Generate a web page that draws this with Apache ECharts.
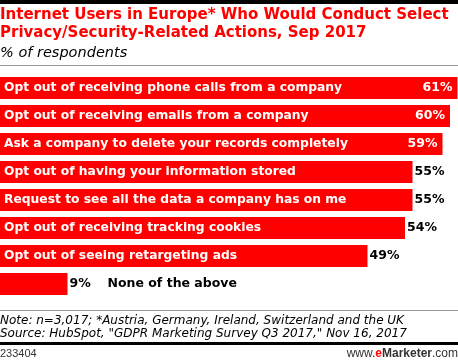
<!DOCTYPE html>
<html><head><meta charset="utf-8">
<script src="https://cdn.jsdelivr.net/npm/echarts@6/dist/echarts.min.js"></script>
<style>html,body{margin:0;padding:0;background:#fff}#c{width:458px;height:361px}</style>
</head><body><div id="c"></div>
<script>
var titleLines = ["Internet Users in Europe* Who Would Conduct Select", "Privacy/Security-Related Actions, Sep 2017"];
var subtitle = "% of respondents";
var categories = [
  "Opt out of receiving phone calls from a company",
  "Opt out of receiving emails from a company",
  "Ask a company to delete your records completely",
  "Opt out of having your information stored",
  "Request to see all the data a company has on me",
  "Opt out of receiving tracking cookies",
  "Opt out of seeing retargeting ads",
  "None of the above"
];
var values = [61, 60, 59, 55, 55, 54, 49, 9];
var noteLines = ["Note: n=3,017; *Austria, Germany, Ireland, Switzerland and the UK",
  "Source: HubSpot, \"GDPR Marketing Survey Q3 2017,\" Nov 16, 2017"];
var chartId = "233404";

var RED = '#ff0000';
var FONT = '"DejaVu Sans", Verdana, sans-serif';
var AFONT = '"Liberation Sans", Arial, sans-serif';
var chart = echarts.init(document.getElementById('c'), null, {renderer: 'canvas'});

var catData = values.map(function (v, i) {
  var outside = v < 20;
  return {value: v, label: {show: !outside}};
});
var valData = values.map(function (v, i) {
  var inside = v >= 59;
  var outside = v < 20;
  return {
    value: v,
    label: inside ? {position: 'insideRight', color: '#fff', offset: [0, 0]} :
      outside ? {position: 'right', offset: [-3, 0], formatter: '{a|' + v + '%}{b|' + categories[i] + '}'} :
      {position: 'right', color: '#000', offset: [-3, 0]}
  };
});

chart.setOption({
  animation: false,
  grid: {left: 0, right: 0, top: 74, height: 224, containLabel: false},
  xAxis: {type: 'value', min: 0, max: 458 / 7.5, show: false},
  yAxis: {type: 'category', data: categories, inverse: true, show: false},
  series: [
    {
      type: 'bar', data: catData, barWidth: 22, barGap: '-100%',
      itemStyle: {color: RED},
      label: {show: true, position: 'insideLeft', offset: [-1, 0], formatter: function (p) { return categories[p.dataIndex]; },
        color: '#fff', fontWeight: 'bold', fontSize: 12.3, fontFamily: FONT}
    },
    {
      type: 'bar', data: valData, barWidth: 22, barGap: '-100%',
      itemStyle: {color: 'rgba(0,0,0,0)'}, silent: true,
      label: {show: true, formatter: '{c}%', color: '#000', fontWeight: 'bold', fontSize: 12.5, fontFamily: FONT,
        rich: {
          a: {color: '#000', fontWeight: 'bold', fontSize: 12.5, fontFamily: FONT, width: 38},
          b: {color: '#000', fontWeight: 'bold', fontSize: 12.5, fontFamily: FONT}
        }}
    }
  ],
  graphic: [
    {type: 'rect', shape: {x: 0, y: 0, width: 458, height: 4}, style: {fill: '#000'}},
    {type: 'text', x: 0, y: 15, style: {text: titleLines[0], fill: RED, font: 'bold 15px ' + FONT, textVerticalAlign: 'middle'}},
    {type: 'text', x: 0, y: 33, style: {text: titleLines[1], fill: RED, font: 'bold 15px ' + FONT, textVerticalAlign: 'middle'}},
    {type: 'text', x: 0, y: 53, style: {text: subtitle, fill: '#000', font: 'italic 14.5px ' + FONT, textVerticalAlign: 'middle'}},
    {type: 'rect', shape: {x: 0, y: 65, width: 458, height: 1}, style: {fill: '#999'}},
    {type: 'rect', shape: {x: 0, y: 310, width: 458, height: 1}, style: {fill: '#999'}},
    {type: 'text', x: 0, y: 321, style: {text: noteLines[0], fill: '#000', font: 'italic 12px ' + FONT, textVerticalAlign: 'middle'}},
    {type: 'text', x: 0, y: 334, style: {text: noteLines[1], fill: '#000', font: 'italic 12px ' + FONT, textVerticalAlign: 'middle'}},
    {type: 'rect', shape: {x: 0, y: 342, width: 458, height: 3}, style: {fill: '#000'}},
    {type: 'text', x: 0, y: 354, style: {text: chartId, fill: '#333', font: '11px ' + AFONT, textVerticalAlign: 'middle'}},
    {type: 'text', x: 458, y: 354, style: {
      text: '{w|www.}{e|e}{m|Marketer}{w|.com}', textAlign: 'right', textVerticalAlign: 'middle',
      rich: {
        w: {fill: '#333', font: '12px ' + AFONT},
        e: {fill: RED, font: 'bold 12px ' + AFONT},
        m: {fill: '#333', font: 'bold 12px ' + AFONT}
      }}}
  ]
});
</script></body></html>
